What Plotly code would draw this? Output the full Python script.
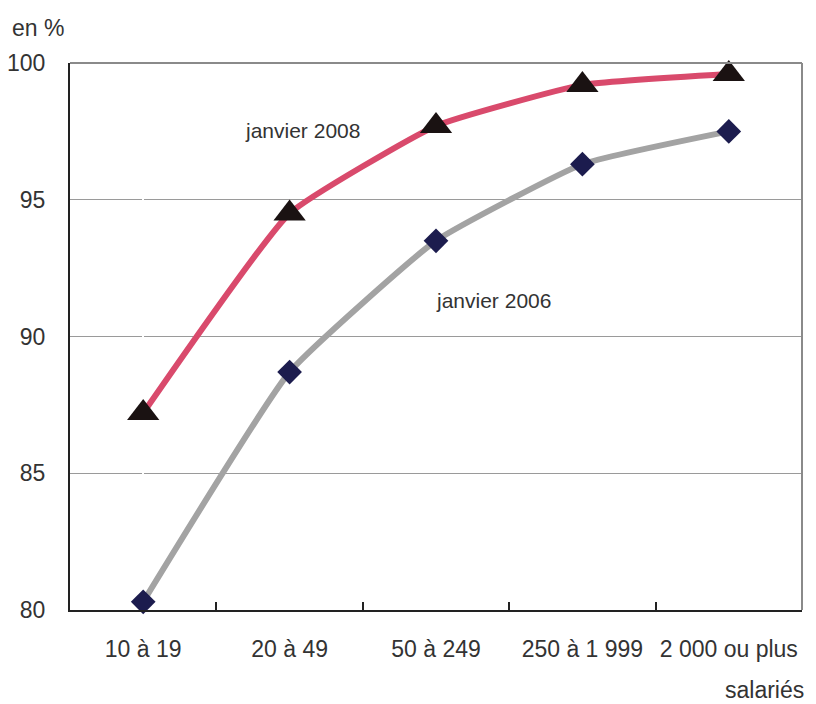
import plotly.graph_objects as go

categories = ["10 à 19", "20 à 49", "50 à 249", "250 à 1 999", "2 000 ou plus"]
jan2008 = [87.2, 94.5, 97.7, 99.2, 99.6]
jan2006 = [80.3, 88.7, 93.5, 96.3, 97.5]
y_ticks = [80, 85, 90, 95, 100]

FONT = "Liberation Sans, Arial, sans-serif"
TXT = "#333333"
xs = list(range(len(categories)))

fig = go.Figure()
fig.add_trace(go.Scatter(
    x=xs, y=jan2006, mode="lines+markers", name="janvier 2006",
    line=dict(color="#a3a3a3", width=6, shape="spline", smoothing=0.4),
    marker=dict(symbol="diamond", size=19, color="#1c1c4e"),
    cliponaxis=False,
))
fig.add_trace(go.Scatter(
    x=xs, y=jan2008, mode="lines+markers", name="janvier 2008",
    line=dict(color="#d94a6c", width=6, shape="spline", smoothing=0.4),
    marker=dict(symbol="triangle-up", size=28, color="#1a1212"),
    cliponaxis=False,
))

# frame top/right (grey)
fig.add_shape(type="line", xref="paper", yref="paper", x0=0, x1=1, y0=1, y1=1,
              line=dict(color="#8a8a8a", width=2))
fig.add_shape(type="line", xref="paper", yref="paper", x0=1, x1=1, y0=0, y1=1,
              line=dict(color="#8a8a8a", width=2))

fig.add_annotation(x=1.085, y=97.55, xref="x", yref="y", text="janvier 2008",
                   showarrow=False, font=dict(family=FONT, size=21, color=TXT))
fig.add_annotation(x=2.39, y=91.33, xref="x", yref="y", text="janvier 2006",
                   showarrow=False, font=dict(family=FONT, size=21, color=TXT))
fig.add_annotation(xref="paper", yref="paper", x=-0.082, y=1.064, xanchor="left",
                   yanchor="middle", text="en %", showarrow=False,
                   font=dict(family=FONT, size=23, color=TXT))
fig.add_annotation(xref="paper", yref="paper", x=1.006, y=-0.146, xanchor="right",
                   yanchor="middle", text="salariés", showarrow=False,
                   font=dict(family=FONT, size=23, color=TXT))

fig.update_layout(
    width=808, height=696,
    margin=dict(l=62, r=14, t=55, b=94, autoexpand=False),
    paper_bgcolor="white", plot_bgcolor="white",
    showlegend=False,
    font=dict(family=FONT, size=23, color=TXT),
)
fig.update_xaxes(
    range=[-0.5, 4.5], tickmode="array", tickvals=xs, ticktext=categories,
    showgrid=False, showline=True, linecolor="#222", linewidth=2,
    ticks="", zeroline=False, fixedrange=True, automargin=False,
    ticklabelstandoff=17,
)
fig.update_layout(xaxis2=dict(
    overlaying="x", range=[-0.5, 4.5], tickvals=[0.5, 1.5, 2.5, 3.5],
    showticklabels=False, ticks="inside", ticklen=8, tickwidth=2, tickcolor="#222",
    showgrid=False, showline=False, side="bottom", anchor="y", automargin=False,
))
fig.add_trace(go.Scatter(x=[None], y=[None], xaxis="x2", showlegend=False, hoverinfo="skip"))
fig.update_yaxes(
    range=[80, 100], tickmode="array", tickvals=y_ticks,
    showgrid=True, gridcolor="#9a9a9a", gridwidth=1,
    showline=True, linecolor="#222", linewidth=2, ticks="", zeroline=False,
    ticklabelstandoff=18, fixedrange=True, automargin=False,
)

fig.write_html("out.html")
